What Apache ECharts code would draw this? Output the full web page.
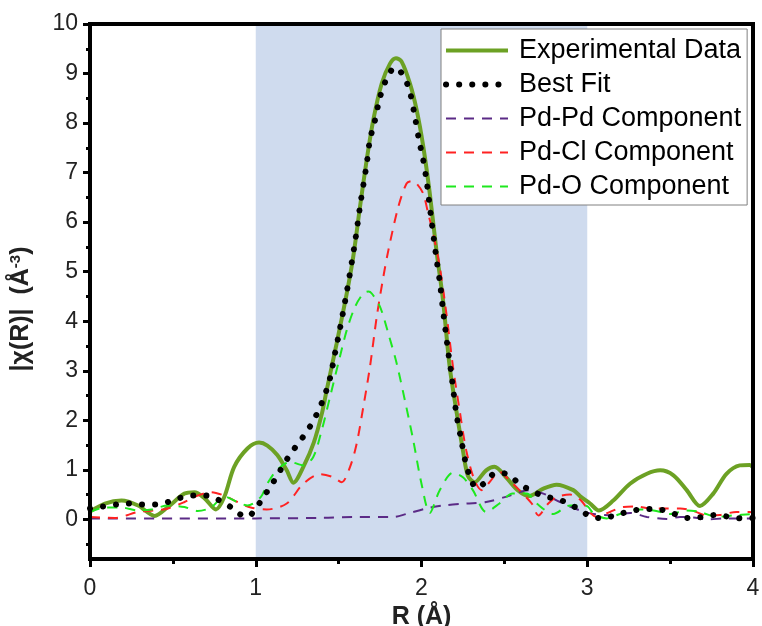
<!DOCTYPE html>
<html>
<head>
<meta charset="utf-8">
<script src="https://cdn.jsdelivr.net/npm/echarts@6/dist/echarts.min.js"></script>
<style>html,body{margin:0;padding:0;background:#fff}#c{width:762px;height:626px}</style>
</head>
<body>
<div id="c"></div>
<script>
// ---- data ----
const expR = [0.00,0.09,0.19,0.29,0.39,0.47,0.57,0.63,0.69,0.76,0.81,0.87,0.95,1.02,1.07,1.13,1.187,1.227,1.29,1.35,1.40,1.428,1.488,1.549,1.589,1.629,1.669,1.709,1.76,1.81,1.846,1.88,1.93,1.971,2.011,2.05,2.09,2.13,2.17,2.21,2.25,2.28,2.32,2.39,2.44,2.51,2.58,2.65,2.735,2.815,2.916,2.956,3.017,3.07,3.157,3.258,3.36,3.44,3.52,3.60,3.68,3.76,3.84,3.92,3.98,4.00];
const expY = [0.16,0.32,0.38,0.28,0.07,0.25,0.52,0.55,0.43,0.20,0.45,1.06,1.43,1.55,1.49,1.30,0.99,0.74,1.08,1.55,2.15,2.61,3.55,4.56,5.32,6.31,7.25,8.06,8.80,9.20,9.31,9.24,8.80,8.26,7.52,6.58,5.43,4.42,3.08,2.20,1.39,0.88,0.75,0.99,1.06,0.85,0.59,0.47,0.62,0.70,0.59,0.47,0.32,0.18,0.38,0.72,0.92,0.99,0.89,0.59,0.27,0.52,0.92,1.09,1.10,1.05];

const fitR = [0.00,0.08,0.16,0.23,0.31,0.39,0.47,0.54,0.62,0.70,0.77,0.84,0.89,0.95,1.006,1.05,1.096,1.136,1.176,1.22,1.267,1.311,1.351,1.388,1.418,1.448,1.478,1.508,1.549,1.599,1.633,1.67,1.69,1.713,1.746,1.77,1.80,1.84,1.87,1.90,1.93,1.96,1.987,2.007,2.03,2.06,2.09,2.112,2.13,2.16,2.18,2.21,2.24,2.27,2.297,2.33,2.383,2.45,2.52,2.59,2.655,2.73,2.80,2.87,2.94,3.01,3.087,3.167,3.24,3.32,3.40,3.48,3.55,3.626,3.70,3.78,3.857,3.94,4.00];
const fitY = [0.22,0.26,0.30,0.32,0.30,0.30,0.35,0.43,0.48,0.48,0.40,0.27,0.13,0.05,0.25,0.47,0.70,0.92,1.15,1.37,1.58,1.79,2.01,2.27,2.52,2.85,3.35,3.85,4.59,5.60,6.41,7.19,7.69,7.96,8.48,8.73,8.97,9.12,9.05,8.90,8.63,8.13,7.62,7.32,6.85,6.04,5.27,4.76,4.22,3.41,2.94,2.14,1.60,1.09,0.83,0.63,0.74,0.94,0.91,0.72,0.59,0.48,0.42,0.35,0.22,0.08,0.02,0.08,0.15,0.20,0.21,0.17,0.08,0.02,0.05,0.09,0.05,0.02,0.03];

const pdpdR = [0.0,0.5,1.0,1.4,1.6,1.83,1.91,2.03,2.13,2.27,2.39,2.534,2.645,2.735,2.836,2.956,3.04,3.16,3.26,3.36,3.48,3.56,3.64,3.72,3.84,3.96,4.0];
const pdpdY = [0.02,0.02,0.02,0.03,0.05,0.05,0.11,0.22,0.28,0.32,0.35,0.48,0.59,0.52,0.35,0.18,0.11,0.08,0.13,0.05,0.01,0.05,0.04,0.00,0.02,0.02,0.02];

const pdclR = [0.00,0.15,0.29,0.39,0.47,0.57,0.65,0.73,0.81,0.89,0.97,1.066,1.187,1.287,1.388,1.468,1.518,1.569,1.609,1.649,1.689,1.73,1.77,1.80,1.86,1.91,1.94,1.97,2.01,2.04,2.07,2.11,2.15,2.19,2.23,2.27,2.32,2.363,2.41,2.47,2.53,2.59,2.665,2.705,2.765,2.815,2.896,2.956,3.057,3.137,3.218,3.30,3.38,3.48,3.56,3.64,3.72,3.80,3.90,3.98,4.00];
const pdclY = [0.05,0.03,0.15,0.18,0.22,0.35,0.48,0.55,0.48,0.35,0.24,0.20,0.32,0.72,0.91,0.85,0.75,1.06,1.53,2.27,3.08,4.09,4.90,5.43,6.31,6.78,6.83,6.78,6.58,6.18,5.77,5.10,4.16,3.08,2.20,1.39,0.79,0.59,0.75,0.96,0.79,0.59,0.32,0.08,0.32,0.45,0.50,0.40,0.05,0.15,0.25,0.26,0.22,0.22,0.22,0.17,0.08,0.09,0.15,0.15,0.14];

const pdoR = [0.00,0.09,0.19,0.29,0.37,0.47,0.57,0.65,0.73,0.81,0.89,0.95,1.03,1.07,1.126,1.207,1.287,1.347,1.398,1.448,1.498,1.549,1.599,1.649,1.68,1.70,1.75,1.80,1.85,1.90,1.95,2.00,2.05,2.11,2.19,2.25,2.31,2.39,2.47,2.55,2.635,2.695,2.795,2.896,2.996,3.04,3.117,3.198,3.30,3.40,3.50,3.60,3.68,3.78,3.88,4.00];
const pdoY = [0.15,0.24,0.24,0.18,0.20,0.28,0.25,0.17,0.24,0.46,0.35,0.28,0.45,0.72,0.99,1.16,1.09,1.26,1.80,2.47,3.15,3.82,4.29,4.56,4.60,4.56,4.29,3.75,3.15,2.40,1.60,0.72,0.13,0.59,0.94,0.85,0.59,0.15,0.32,0.52,0.52,0.32,0.11,0.28,0.27,0.11,0.02,0.11,0.20,0.18,0.11,0.18,0.15,0.05,0.08,0.11];

const seriesNames = ['Experimental Data','Best Fit','Pd-Pd Component','Pd-Cl Component','Pd-O Component'];
const xTicks = [0,1,2,3,4];
const xMinorTicks = [0.5,1.5,2.5,3.5];
const yTicks = [0,1,2,3,4,5,6,7,8,9,10];
const yMinorTicks = [-0.5,0.5,1.5,2.5,3.5,4.5,5.5,6.5,7.5,8.5,9.5];
const fitRange = [1, 3];

const zip = (a, b) => a.map((v, i) => [v, b[i]]);
const FONT = 'Liberation Sans, Arial, sans-serif';

const C = {exp: '#6ca124', fit: '#000000', pdpd: '#5b2a86', pdcl: '#ff2222', pdo: '#1ee81e'};
const DOTS = {width: 6, type: [0.1, 13], cap: 'round'};
const DASH = [10, 8];

const chart = echarts.init(document.getElementById('c'), null, {renderer: 'canvas'});
const hiddenAxis = {axisTick: {show: false}, axisLabel: {show: false}, splitLine: {show: false}};
const option = {
  animation: false,
  backgroundColor: '#fff',
  textStyle: {fontFamily: FONT},
  grid: {left: 90, right: 9, top: 24, bottom: 67, containLabel: false, outerBoundsMode: 'none',
         show: true, borderColor: '#000', borderWidth: 4, backgroundColor: 'transparent'},
  legend: {
    orient: 'vertical', left: 441, top: 29,
    data: [
      {name: seriesNames[0], lineStyle: {width: 4, color: C.exp}},
      {name: seriesNames[1], lineStyle: Object.assign({color: C.fit}, DOTS)},
      {name: seriesNames[2], lineStyle: {width: 2, type: DASH, color: C.pdpd}},
      {name: seriesNames[3], lineStyle: {width: 2, type: DASH, color: C.pdcl}},
      {name: seriesNames[4], lineStyle: {width: 2, type: DASH, color: C.pdo}}
    ],
    itemStyle: {opacity: 0},
    backgroundColor: '#fff', borderColor: '#808080', borderWidth: 1,
    padding: [8, 6, 5, 2],
    itemWidth: 62, itemHeight: 14, itemGap: 7,
    textStyle: {fontSize: 27, lineHeight: 25, color: '#000', fontFamily: FONT, padding: [0,0,0,6]}
  },
  xAxis: [{
    type: 'value', min: 0, max: 4, interval: 1, z: 5,
    name: 'R (Å)', nameLocation: 'middle', nameGap: 35,
    nameTextStyle: {fontSize: 25, fontWeight: 'bold', color: '#222', fontFamily: FONT},
    axisLine: {onZero: false, lineStyle: {color: '#000', width: 4}},
    axisTick: {show: true, length: 8, customValues: xTicks, lineStyle: {width: 3, color: '#000'}},
    axisLabel: {fontSize: 23, margin: 18, color: '#222', customValues: xTicks},
    splitLine: {show: false}
  }, {
    type: 'value', min: 0, max: 4, position: 'bottom', z: 5,
    axisLine: {show: false, onZero: false},
    axisTick: {show: true, length: 5, customValues: xMinorTicks, lineStyle: {width: 3, color: '#000'}},
    axisLabel: {show: false}, splitLine: {show: false}
  }, Object.assign({
    type: 'value', min: 0, max: 4, position: 'top', z: 5,
    axisLine: {show: true, onZero: false, lineStyle: {color: '#000', width: 4}}
  }, hiddenAxis)],
  yAxis: [{
    type: 'value', min: -0.8, max: 10, z: 5,
    axisLine: {show: true, onZero: false, lineStyle: {color: '#000', width: 4}},
    axisTick: {show: true, length: 7, customValues: yTicks, lineStyle: {width: 3, color: '#000'}},
    axisLabel: {fontSize: 23, margin: 12, color: '#222', customValues: yTicks},
    splitLine: {show: false}
  }, {
    type: 'value', min: -0.8, max: 10, position: 'left', z: 5,
    axisLine: {show: false, onZero: false},
    axisTick: {show: true, length: 4, customValues: yMinorTicks, lineStyle: {width: 3, color: '#000'}},
    axisLabel: {show: false}, splitLine: {show: false}
  }, Object.assign({
    type: 'value', min: -0.8, max: 10, position: 'right', z: 5,
    axisLine: {show: true, onZero: false, lineStyle: {color: '#000', width: 4}}
  }, hiddenAxis)],
  graphic: [{
    type: 'text', x: 21, y: 309, rotation: Math.PI / 2,
    style: {
      text: '{b|\u007Cχ(R)\u007C  (Å}{s|-3}{b|)}',
      align: 'center', verticalAlign: 'middle',
      rich: {
        b: {fontSize: 25, fontWeight: 'bold', fill: '#222', fontFamily: FONT},
        s: {fontSize: 15, fontWeight: 'bold', fill: '#222', fontFamily: FONT, verticalAlign: 'top'}
      }
    }
  }],
  series: [
    {
      name: 'region', type: 'line', data: [], z: 1, silent: true,
      markArea: {silent: true, itemStyle: {color: '#cfdbee'}, data: [[{xAxis: fitRange[0]}, {xAxis: fitRange[1]}]]}
    },
    {
      name: seriesNames[0], type: 'line', data: zip(expR, expY), smooth: 0.3,
      symbol: 'none', z: 3, color: C.exp,
      lineStyle: {color: C.exp, width: 4}
    },
    {
      name: seriesNames[1], type: 'line', data: zip(fitR, fitY), smooth: 0.3,
      symbol: 'none', z: 6, color: C.fit,
      lineStyle: Object.assign({color: C.fit}, DOTS)
    },
    {
      name: seriesNames[2], type: 'line', data: zip(pdpdR, pdpdY), smooth: 0.3,
      symbol: 'none', z: 4, color: C.pdpd,
      lineStyle: {color: C.pdpd, width: 2, type: DASH}
    },
    {
      name: seriesNames[3], type: 'line', data: zip(pdclR, pdclY), smooth: 0.3,
      symbol: 'none', z: 4, color: C.pdcl,
      lineStyle: {color: C.pdcl, width: 2, type: DASH}
    },
    {
      name: seriesNames[4], type: 'line', data: zip(pdoR, pdoY), smooth: 0.3,
      symbol: 'none', z: 4, color: C.pdo,
      lineStyle: {color: C.pdo, width: 2, type: DASH}
    }
  ]
};
chart.setOption(option);
</script>
</body>
</html>
